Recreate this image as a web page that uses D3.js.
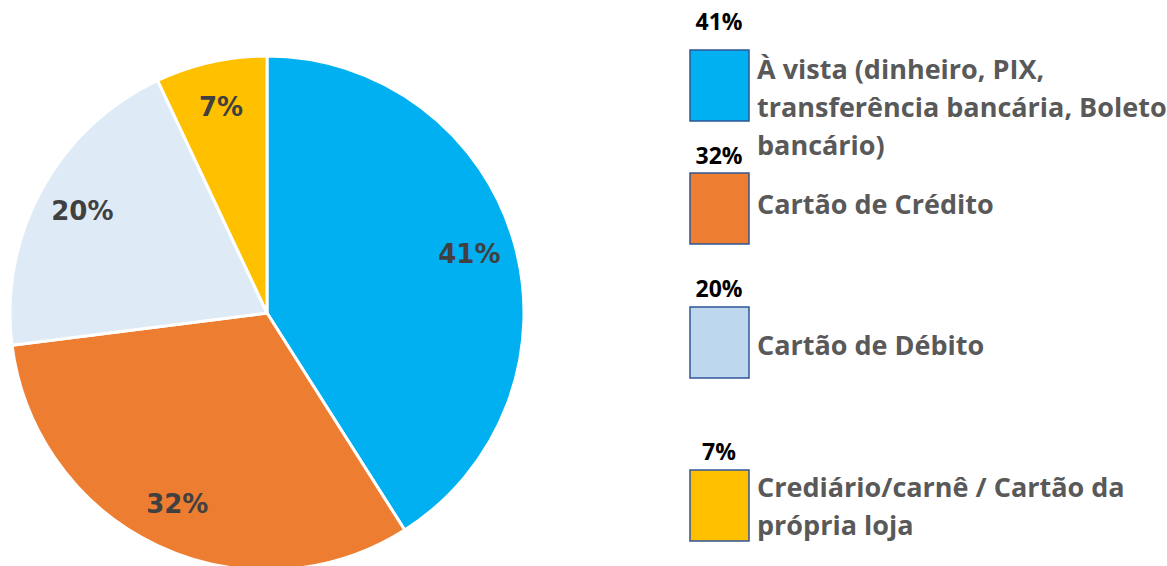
<!DOCTYPE html>
<html><head><meta charset="utf-8">
<script src="https://cdn.jsdelivr.net/npm/d3@7"></script>
<style>html,body{margin:0;padding:0;background:#fff;}svg{display:block;}</style>
</head><body>
<svg id="chart" width="1167" height="566"></svg>
<script>
const categories = ["À vista (dinheiro, PIX, transferência bancária, Boleto bancário)", "Cartão de Crédito", "Cartão de Débito", "Crediário/carnê / Cartão da própria loja"];
const legendLines = [["À vista (dinheiro, PIX,", "transferência bancária, Boleto", "bancário)"], ["Cartão de Crédito"], ["Cartão de Débito"], ["Crediário/carnê / Cartão da", "própria loja"]];
const values = [41, 32, 20, 7];
const labels = ["41%", "32%", "20%", "7%"];
const sliceColors = ["#00B0F0", "#ED7D31", "#DEEBF7", "#FFC000"];
const legendColors = ["#00B0F0", "#ED7D31", "#BDD7EE", "#FFC000"];

const svg = d3.select("#chart");
const cx = 267, cy = 313, R = 257;
const pie = d3.pie().sort(null).value(d => d)(values);
const arc = d3.arc().innerRadius(0).outerRadius(R);
const labelArc = d3.arc().innerRadius(R * 0.82).outerRadius(R * 0.82);
const g = svg.append("g").attr("transform", `translate(${cx},${cy})`);
g.selectAll("path").data(pie).join("path")
  .attr("d", arc).attr("fill", (d, i) => sliceColors[i])
  .attr("stroke", "#fff").attr("stroke-width", 3).attr("stroke-linejoin", "round");
g.selectAll("text").data(pie).join("text")
  .attr("transform", d => `translate(${labelArc.centroid(d)})`)
  .attr("text-anchor", "middle").attr("dominant-baseline", "central")
  .attr("font-family", "DejaVu Sans, sans-serif").attr("font-weight", "bold")
  .attr("font-size", 26).attr("fill", "#404040")
  .text((d, i) => labels[i]);

// legend
const boxTop = [50, 173, 307, 470];
const pctBase = [30, 164, 297, 460];
const textBase = [79, 214, 355, 497];
const lineH = 38;
const lg = svg.append("g");
values.forEach((v, i) => {
  lg.append("rect").attr("x", 690).attr("y", boxTop[i]).attr("width", 59).attr("height", 71)
    .attr("fill", legendColors[i]).attr("stroke", "#2F5597").attr("stroke-width", 1.5);
  lg.append("text").attr("x", 719).attr("y", pctBase[i]).attr("text-anchor", "middle")
    .attr("font-family", "Open Sans, sans-serif").attr("font-weight", "bold")
    .attr("font-size", 23).attr("fill", "#000").text(labels[i]);
  legendLines[i].forEach((ln, j) => {
    lg.append("text").attr("x", 757).attr("y", textBase[i] + j * lineH)
      .attr("font-family", "Open Sans, sans-serif").attr("font-weight", "bold")
      .attr("font-size", 27).attr("fill", "#595959").text(ln);
  });
});
</script>
</body></html>
